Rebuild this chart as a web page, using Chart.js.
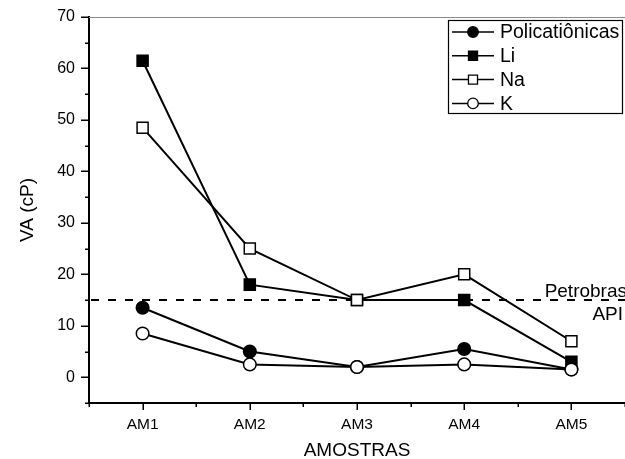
<!DOCTYPE html>
<html lang="pt">
<head>
<meta charset="utf-8">
<title>VA (cP) por amostra</title>
<script src="https://cdn.jsdelivr.net/npm/chart.js@4/dist/chart.umd.min.js"></script>
<style>
  html, body { margin: 0; padding: 0; background: #fff; }
  #wrap { width: 625px; height: 459px; }
</style>
</head>
<body>
<div id="wrap"><canvas id="va-chart" width="625" height="459"></canvas></div>
<script>
(() => {
  "use strict";

  // ── Data ──────────────────────────────────────────────────────
  const amostras       = ["AM1", "AM2", "AM3", "AM4", "AM5"];
  const policationicas = [13.5, 5, 2, 5.5, 1.5];
  const li             = [61.5, 18, 15, 15, 3];
  const na             = [48.5, 25, 15, 20, 7];
  const k              = [8.5, 2.5, 2, 2.5, 1.5];

  const yTicks      = [0, 10, 20, 30, 40, 50, 60, 70];
  const yMinorTicks = [-5, 5, 15, 25, 35, 45, 55, 65];
  const petrobrasApi = 15;   // reference line
  const refLabel     = ["Petrobras", "API"];

  const FONT = "'Liberation Sans', Arial, sans-serif";

  // ── Extra drawing: tick marks, reference line, legend ────────
  const decorations = {
    id: "decorations",

    beforeDatasetsDraw(chart) {
      const { ctx, chartArea: a, scales: { y } } = chart;
      const yRef = y.getPixelForValue(petrobrasApi);
      ctx.save();
      ctx.strokeStyle = "#000";
      ctx.lineWidth = 2;
      ctx.setLineDash([8, 9]);
      ctx.beginPath();
      ctx.moveTo(a.left + 2, yRef);
      ctx.lineTo(a.right, yRef);
      ctx.stroke();
      ctx.restore();
    },

    afterDraw(chart) {
      const { ctx, chartArea: a, scales: { x, y } } = chart;
      ctx.save();

      // frame top
      ctx.strokeStyle = "#8a8a8a";
      ctx.lineWidth = 1;
      ctx.beginPath();
      ctx.moveTo(a.left, a.top + 0.5);
      ctx.lineTo(a.right, a.top + 0.5);
      ctx.stroke();

      // tick marks, outward
      ctx.strokeStyle = "#000";
      ctx.lineWidth = 1.5;
      ctx.beginPath();
      yTicks.forEach(v => {
        const py = Math.round(y.getPixelForValue(v)) + 0.25;
        ctx.moveTo(a.left - 8, py); ctx.lineTo(a.left, py);
      });
      yMinorTicks.forEach(v => {
        const py = Math.round(y.getPixelForValue(v)) + 0.25;
        ctx.moveTo(a.left - 4, py); ctx.lineTo(a.left, py);
      });
      amostras.forEach((_, i) => {
        const px = Math.round(x.getPixelForValue(i)) + 0.25;
        ctx.moveTo(px, a.bottom); ctx.lineTo(px, a.bottom + 7);
      });
      for (let i = -0.5; i <= amostras.length - 0.5; i++) {
        const px = Math.round(x.getPixelForValue(i)) + 0.25;
        ctx.moveTo(px, a.bottom); ctx.lineTo(px, a.bottom + 4);
      }
      ctx.stroke();

      // reference line label
      const yRef = y.getPixelForValue(petrobrasApi);
      ctx.fillStyle = "#000";
      ctx.font = "19px " + FONT;
      ctx.textAlign = "right";
      ctx.textBaseline = "alphabetic";
      ctx.fillText(refLabel[0], a.right + 2, yRef - 3);
      ctx.fillText(refLabel[1], a.right - 2, yRef + 20);

      // legend box
      const box = { left: 448, top: 20, right: 622, bottom: 113 };
      ctx.fillStyle = "#fff";
      ctx.fillRect(box.left, box.top, box.right - box.left, box.bottom - box.top);
      ctx.strokeStyle = "#000";
      ctx.lineWidth = 1.2;
      ctx.strokeRect(box.left + 0.5, box.top + 0.5, box.right - box.left, box.bottom - box.top);

      ctx.font = "19.5px " + FONT;
      ctx.textAlign = "left";
      ctx.textBaseline = "middle";
      chart.data.datasets.forEach((ds, i) => {
        const cy = 32 + i * 23.8;
        ctx.strokeStyle = "#000";
        ctx.lineWidth = 1.5;
        ctx.beginPath();
        ctx.moveTo(452, cy); ctx.lineTo(494, cy);
        ctx.stroke();
        ctx.fillStyle = ds.pointBackgroundColor;
        ctx.strokeStyle = ds.pointBorderColor;
        ctx.lineWidth = 1.3;
        Chart.helpers.drawPoint(ctx, {
          pointStyle: ds.pointStyle,
          radius: ds.pointStyle === "rect" ? 6.4 : 5.3,
          rotation: 0,
          borderWidth: 1.3,
        }, 473, cy);
        ctx.fillStyle = "#000";
        ctx.fillText(ds.label, 500, cy + 1);
      });

      ctx.restore();
    },
  };

  // ── Datasets ──────────────────────────────────────────────────
  function series(label, values, style, filled, order) {
    return {
      label,
      data: values,
      order,
      borderColor: "#000",
      borderWidth: 2,
      tension: 0,
      fill: false,
      pointStyle: style,
      pointRadius: style === "rect" ? 7.8 : 6.3,
      pointBorderWidth: 1.5,
      pointBorderColor: "#000",
      pointBackgroundColor: filled ? "#000" : "#fff",
    };
  }

  new Chart(document.getElementById("va-chart"), {
    type: "line",
    data: {
      labels: amostras,
      datasets: [
        series("Policatiônicas", policationicas, "circle", true, 3),
        series("Li", li, "rect", true, 2),
        series("Na", na, "rect", false, 1),
        series("K", k, "circle", false, 0),
      ],
    },
    options: {
      responsive: false,
      animation: false,
      layout: { autoPadding: false, padding: { top: 17, left: 0, right: 0, bottom: 0 } },
      plugins: {
        legend: { display: false },
        tooltip: { enabled: false },
      },
      scales: {
        x: {
          type: "category",
          offset: true,
          border: { display: true, color: "#000", width: 2 },
          grid: { display: true, drawOnChartArea: false, drawTicks: false, offset: true },
          ticks: { color: "#000", padding: 12, font: { family: FONT, size: 15.5 }, maxRotation: 0 },
          title: {
            display: true, text: "AMOSTRAS", color: "#000",
            font: { family: FONT, size: 19 }, padding: { top: 0, bottom: -3 },
          },
          afterFit: s => { s.height = 56; s.paddingLeft = 0; s.paddingRight = 0; },
        },
        y: {
          min: -5,
          max: 70,
          border: { display: true, color: "#000", width: 2 },
          grid: { display: true, drawOnChartArea: false, drawTicks: false },
          afterBuildTicks: s => { s.ticks = yTicks.map(v => ({ value: v })); },
          ticks: { color: "#000", padding: 14, font: { family: FONT, size: 16 } },
          title: {
            display: true, text: "VA (cP)", color: "#000",
            font: { family: FONT, size: 19 }, padding: { top: 16, bottom: 0 },
          },
          afterFit: s => { s.width = 89; s.paddingTop = 0; s.paddingBottom = 0; },
        },
      },
    },
    plugins: [decorations],
  });
})();
</script>
</body>
</html>
